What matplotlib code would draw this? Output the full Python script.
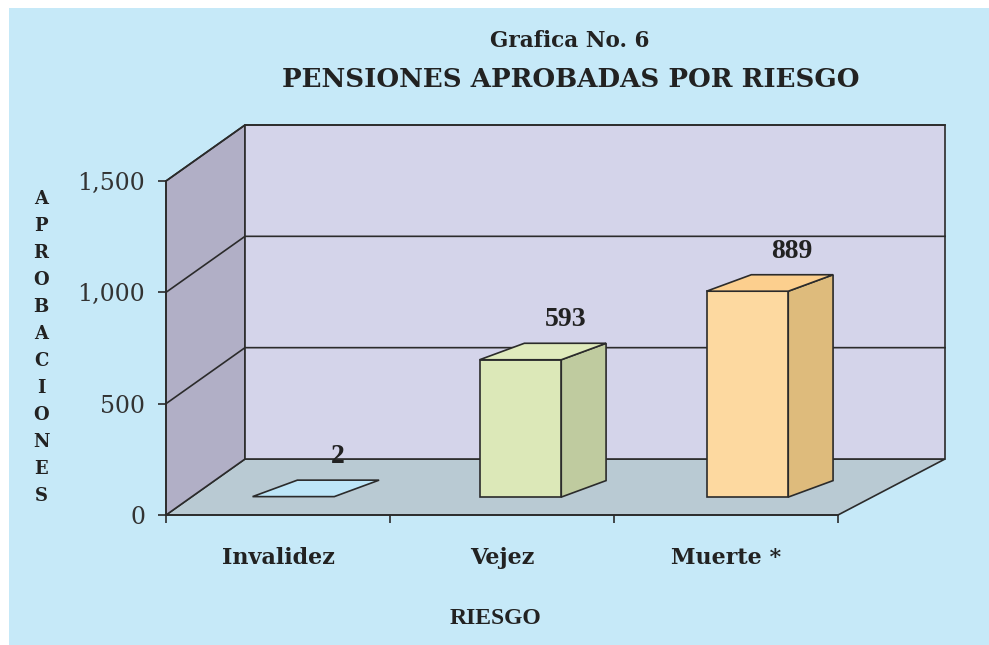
import matplotlib
matplotlib.use("Agg")
import matplotlib.pyplot as plt
from matplotlib.patches import Polygon, Rectangle
from matplotlib.ticker import StrMethodFormatter

# data
categories = ["Invalidez", "Vejez", "Muerte *"]
values = [2, 593, 889]
y_ticks = [0, 500, 1000, 1500]
axis_letters = list("APROBACIONES")

# colours (front, side, top)
bar_colors = [
    ("#BEE6F8", "#A9D3E6", "#BEE6F8"),
    ("#DCE8B8", "#BFCB9F", "#E0EBBD"),
    ("#FDD9A0", "#DEBB7C", "#FCCF8E"),
]
bg = "#C6E9F8"
edge = "#2b2b2b"

# fake 3d: depth offsets in data units
depth_y = 251.5          # floor depth in value units
bar_z = 0.32             # bars sit this far into the floor
bar_dx, bar_dy = 0.2, 74 # bar depth
bar_w = 0.36
persp = 1.04


def proj(x, v, z):
    k = 0.3527 + (x + 0.5) / 3 * 0.125
    return x + z * k, v + z * depth_y


fig = plt.figure(figsize=(9.89, 6.45), dpi=100, facecolor="white")
fig.patches.append(Rectangle((9 / 989, 0), 1, 1 - 8 / 645, transform=fig.transFigure,
                             facecolor=bg, edgecolor="none", zorder=-10))

ax = fig.add_axes([166 / 989, 130 / 645, 672 / 989, 334 / 645])
ax.set_facecolor("none")
ax.set_xlim(-0.5, 2.5)
ax.set_ylim(0, 1500)

x0, x1, top = -0.5, 2.5, 1500


def poly(pts, fc, z=1):
    ax.add_patch(Polygon(pts, closed=True, facecolor=fc, edgecolor=edge, lw=1.2,
                         clip_on=False, zorder=z, joinstyle="miter"))


# floor, left wall, back wall
poly([proj(x0, 0, 0), proj(x1, 0, 0), proj(x1, 0, 1), proj(x0, 0, 1)], "#B9CAD3")
poly([proj(x0, 0, 0), proj(x0, 0, 1), proj(x0, top, 1), proj(x0, top, 0)], "#B1AFC6")
poly([proj(x0, 0, 1), proj(x1, 0, 1), proj(x1, top, 1), proj(x0, top, 1)], "#D4D4EA")

# gridlines on the walls
for v in y_ticks[1:]:
    pts = [proj(x0, v, 0), proj(x0, v, 1), proj(x1, v, 1)]
    ax.plot([p[0] for p in pts], [p[1] for p in pts], color=edge, lw=1.2,
            clip_on=False, zorder=2)

# bars
for i, (val, cols) in enumerate(zip(values, bar_colors)):
    c = i - 0.05
    xa, ya = proj(c - bar_w / 2, 0, bar_z)
    xb, _ = proj(c + bar_w / 2, 0, bar_z)
    h = ya + val * persp
    front = [(xa, ya), (xb, ya), (xb, h), (xa, h)]
    side = [(xb, ya), (xb + bar_dx, ya + bar_dy), (xb + bar_dx, h + bar_dy), (xb, h)]
    tface = [(xa, h), (xb, h), (xb + bar_dx, h + bar_dy), (xa + bar_dx, h + bar_dy)]
    if val > 20:
        poly(side, cols[1], 3)
        poly(front, cols[0], 3)
    poly(tface, cols[2], 3)
    ax.annotate(f"{val:,}", ((xa + xb) / 2 + bar_dx, h + bar_dy), xytext=(0, 17),
                textcoords="offset points", ha="center", va="center",
                fontsize=20, fontweight="bold", family="Liberation Serif",
                color="#222222", annotation_clip=False, zorder=5)

# axes styling
for s in ["top", "right"]:
    ax.spines[s].set_visible(False)
for s in ["left", "bottom"]:
    ax.spines[s].set_color(edge)
    ax.spines[s].set_linewidth(1.2)
    ax.spines[s].set_zorder(4)

ax.set_yticks(y_ticks)
ax.yaxis.set_major_formatter(StrMethodFormatter("{x:,.0f}"))
ax.tick_params(axis="y", direction="out", length=6, width=1.2, color=edge, pad=9,
               labelsize=17, labelcolor="#333333")
for lab in ax.get_yticklabels():
    lab.set_family("DejaVu Serif")

ax.set_xticks([0, 1, 2])
ax.set_xticklabels(categories, family="DejaVu Serif", fontweight="bold",
                   fontsize=16, color="#222222")
ax.tick_params(axis="x", which="major", length=0, pad=23)
ax.set_xticks([-0.5, 0.5, 1.5, 2.5], minor=True)
ax.tick_params(axis="x", which="minor", direction="out", length=6, width=1.2, color=edge)

# titles
fig.text(570 / 989, 1 - 47 / 645, "Grafica No. 6", ha="center", va="baseline",
         family="DejaVu Serif", fontweight="bold", fontsize=15.5, color="#222222")
fig.text(571 / 989, 1 - 87 / 645, "PENSIONES APROBADAS POR RIESGO", ha="center",
         va="baseline", family="DejaVu Serif", fontweight="bold", fontsize=18.8,
         color="#222222")
fig.text(495 / 989, 1 - 618 / 645, "RIESGO", ha="center", va="center",
         family="Liberation Serif", fontweight="bold", fontsize=17, color="#222222")

# vertical axis title, one letter per line
for j, ch in enumerate(axis_letters):
    fig.text(41 / 989, 1 - (199 + j * 27) / 645, ch, ha="center", va="center",
             family="DejaVu Serif", fontweight="bold", fontsize=13, color="#222222")

fig.savefig("out.png", dpi=100, facecolor=fig.get_facecolor())
